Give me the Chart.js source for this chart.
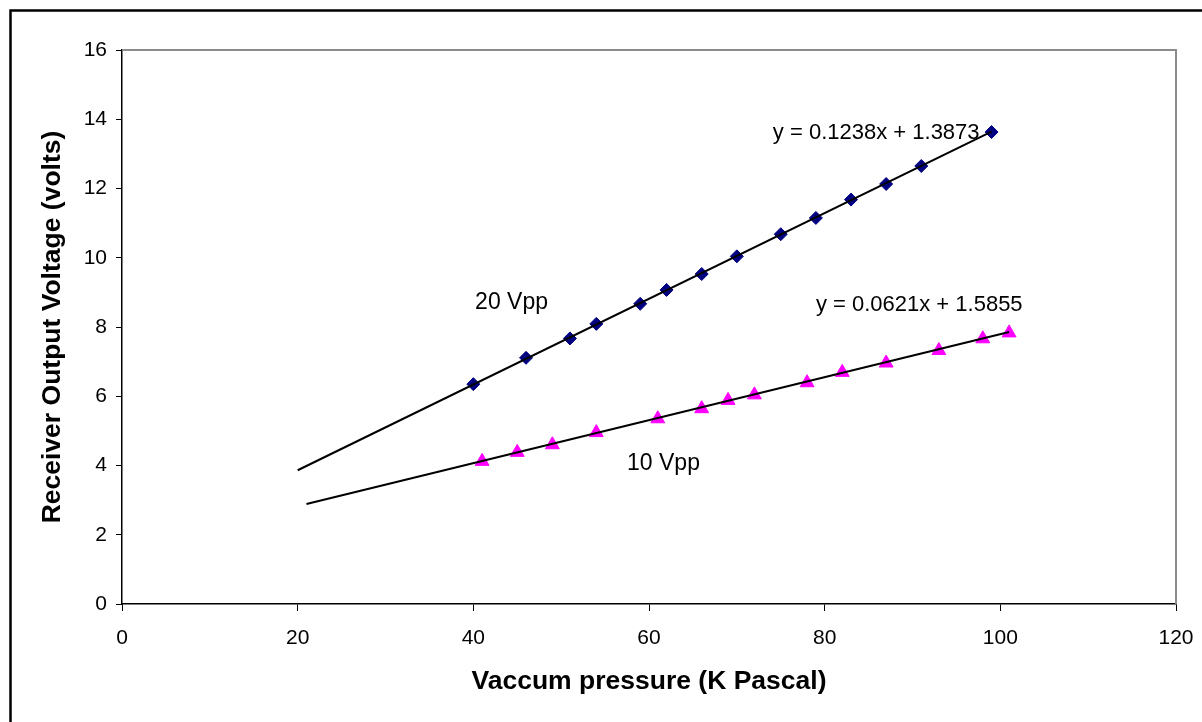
<!DOCTYPE html>
<html>
<head>
<meta charset="utf-8">
<script src="https://cdn.jsdelivr.net/npm/chart.js@4.4.1/dist/chart.umd.min.js"></script>
<style>
    html, body { margin: 0; padding: 0; background: #fff; }
    canvas { display: block; }
</style>
</head>
<body>
<canvas id="chart" width="1202" height="722"></canvas>
<script>
// 20 Vpp readings
const vpp20X = [40, 46, 51, 54, 59, 62, 66, 70, 75, 79, 83, 87, 91, 99];
const vpp20Y = [6.35, 7.11, 7.67, 8.09, 8.67, 9.07, 9.53, 10.04, 10.68, 11.15, 11.68, 12.13, 12.65, 13.63];

// 10 Vpp readings
const vpp10X = [41, 45, 49, 54, 61, 66, 69, 72, 78, 82, 87, 93, 98, 101];
const vpp10Y = [4.12, 4.38, 4.60, 4.95, 5.35, 5.64, 5.88, 6.04, 6.39, 6.69, 6.96, 7.32, 7.66, 7.83];

// trend line end points (as drawn, backward forecast to the left)
const trend20X = [20, 99];
const trend20Y = [3.863, 13.643];
const trend10X = [21, 101];
const trend10Y = [2.890, 7.858];

const xTicks = [0, 20, 40, 60, 80, 100, 120];
const yTicks = [0, 2, 4, 6, 8, 10, 12, 14, 16];

const labelTexts = ['y = 0.1238x + 1.3873', 'y = 0.0621x + 1.5855', '20 Vpp', '10 Vpp'];

const FONT = '"Liberation Sans", Arial, sans-serif';

function toPoints(xs, ys) {
    return xs.map((x, i) => ({ x: x, y: ys[i] }));
}

// text anchors, in chart units (left edge, baseline)
const labelAnchors = [
    { x: 74.1, y: 13.44, size: 22 },
    { x: 79.0, y: 8.47, size: 22 },
    { x: 40.2, y: 8.52, size: 23 },
    { x: 57.5, y: 3.86, size: 23 }
];

const framePlugin = {
    id: 'frame',
    afterDraw(chart) {
        const ctx = chart.ctx;
        const area = chart.chartArea;
        ctx.save();

        // grey plot area border, top and right
        ctx.strokeStyle = '#8c8c8c';
        ctx.lineWidth = 2;
        ctx.beginPath();
        ctx.moveTo(area.left, area.top);
        ctx.lineTo(area.right, area.top);
        ctx.lineTo(area.right, area.bottom);
        ctx.stroke();

        // outer chart frame
        ctx.strokeStyle = '#000';
        ctx.lineWidth = 2.5;
        ctx.strokeRect(10.5, 10.5, 1300, 800);

        // equations and series labels
        const xs = chart.scales.x;
        const ys = chart.scales.y;
        ctx.fillStyle = '#000';
        ctx.textAlign = 'left';
        ctx.textBaseline = 'alphabetic';
        for (let i = 0; i < labelTexts.length; i++) {
            const a = labelAnchors[i];
            ctx.font = `${a.size}px ${FONT}`;
            ctx.fillText(labelTexts[i], xs.getPixelForValue(a.x), ys.getPixelForValue(a.y));
        }
        ctx.restore();
    }
};

const chart = new Chart(document.getElementById('chart'), {
    type: 'scatter',
    data: {
        datasets: [
            {
                label: 'trend 20',
                data: toPoints(trend20X, trend20Y),
                showLine: true,
                borderColor: '#000',
                borderWidth: 2,
                pointRadius: 0,
                order: 0
            },
            {
                label: 'trend 10',
                data: toPoints(trend10X, trend10Y),
                showLine: true,
                borderColor: '#000',
                borderWidth: 2,
                pointRadius: 0,
                order: 0
            },
            {
                label: '20 Vpp',
                data: toPoints(vpp20X, vpp20Y),
                pointStyle: 'rectRot',
                pointRadius: 6.5,
                backgroundColor: '#000080',
                borderColor: '#000080',
                borderWidth: 1,
                order: 1
            },
            {
                label: '10 Vpp',
                data: toPoints(vpp10X, vpp10Y),
                pointStyle: 'triangle',
                pointRadius: 8,
                backgroundColor: '#ff00ff',
                borderColor: '#ff00ff',
                borderWidth: 1,
                order: 1
            }
        ]
    },
    options: {
        responsive: false,
        animation: false,
        devicePixelRatio: 1,
        layout: { padding: { left: 0, top: 50, right: 26, bottom: 0 } },
        plugins: {
            legend: { display: false },
            tooltip: { enabled: false }
        },
        scales: {
            x: {
                type: 'linear',
                min: 0,
                max: 120,
                afterBuildTicks: (scale) => { scale.ticks = xTicks.map(v => ({ value: v })); },
                afterFit: (scale) => {
                    scale.height = 118;
                    scale.paddingLeft = 0;
                    scale.paddingRight = 0;
                },
                grid: { drawOnChartArea: false, drawTicks: true, tickLength: 7, color: '#000', lineWidth: 1 },
                border: { display: true, color: '#000', width: 1.5 },
                ticks: { color: '#000', padding: 15, font: { family: FONT, size: 21 } },
                title: {
                    display: true,
                    text: 'Vaccum pressure (K Pascal)',
                    color: '#000',
                    font: { family: FONT, size: 26.5, weight: 'bold' },
                    padding: { top: 0, bottom: 24 }
                }
            },
            y: {
                type: 'linear',
                min: 0,
                max: 16,
                afterBuildTicks: (scale) => { scale.ticks = yTicks.map(v => ({ value: v })); },
                afterFit: (scale) => {
                    scale.width = 122;
                    scale.paddingTop = 0;
                    scale.paddingBottom = 0;
                },
                grid: { drawOnChartArea: false, drawTicks: true, tickLength: 6, color: '#000', lineWidth: 1 },
                border: { display: true, color: '#000', width: 1.5 },
                ticks: { color: '#000', padding: 9, font: { family: FONT, size: 21 } },
                title: {
                    display: true,
                    text: 'Receiver Output Voltage (volts)',
                    color: '#000',
                    font: { family: FONT, size: 26.5, weight: 'bold' },
                    padding: { top: 37, bottom: 0 }
                }
            }
        }
    },
    plugins: [framePlugin]
});
</script>
</body>
</html>
